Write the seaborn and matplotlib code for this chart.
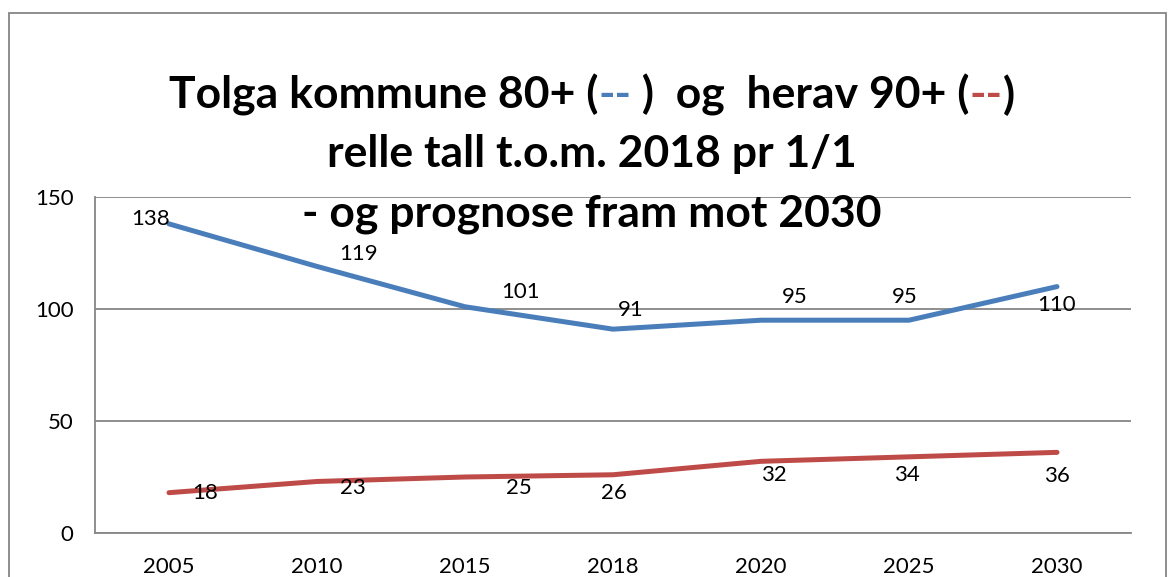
import matplotlib
matplotlib.use("Agg")
import matplotlib.pyplot as plt
import matplotlib.patches as mpatches
from matplotlib import font_manager
import pandas as pd
import seaborn as sns

sns.set_theme(style="white")

names = {f.name for f in font_manager.fontManager.ttflist}
body_font = "Lato" if "Lato" in names else "DejaVu Sans"
plt.rcParams["font.family"] = [body_font, "DejaVu Sans"]
plt.rcParams["text.color"] = "black"
plt.rcParams["xtick.labelcolor"] = "black"
plt.rcParams["ytick.labelcolor"] = "black"

years = ["2005", "2010", "2015", "2018", "2020", "2025", "2030"]
total_80 = [138, 119, 101, 91, 95, 95, 110]
of_90 = [18, 23, 25, 26, 32, 34, 36]

blue = "#4a7ebb"
red = "#be4b48"
grey = "#868686"

# label offsets in pixels, mimicking Excel's placement
off_80 = [(-18, 5), (42, 12), (56, 15), (18, 19), (34, 23), (-4, 23), (0, -18)]
off_90 = [(36, 0), (36, -7), (54, -11), (1, -18), (13, -14), (-2, -18), (0, -24)]

df = pd.DataFrame({"year": years * 2,
                   "value": total_80 + of_90,
                   "group": ["80+"] * len(years) + ["90+"] * len(years)})

fig = plt.figure(figsize=(11.68, 5.77), dpi=100)
ax = fig.add_axes([95 / 1168, 44 / 577, 1036 / 1168, 336 / 577])

sns.lineplot(data=df, x="year", y="value", hue="group", palette={"80+": blue, "90+": red},
             linewidth=3.6, legend=False, ax=ax, sort=False)
for ln in ax.lines:
    ln.set_solid_capstyle("round")
    ln.set_solid_joinstyle("round")

for vals, offs in ((total_80, off_80), (of_90, off_90)):
    for i, (v, o) in enumerate(zip(vals, offs)):
        ax.annotate(str(v), (i, v), xytext=o, textcoords="offset pixels",
                    ha="center", va="center", fontsize=16, color="black")

ax.set_xlim(-0.5, len(years) - 0.5)
ax.set_ylim(0, 150)
ax.set_yticks([0, 50, 100, 150])
ax.set_xticks(range(len(years)))
ax.set_xticks([i - 0.5 for i in range(len(years) + 1)], minor=True)
ax.set_xticklabels(years)
ax.tick_params(axis="x", which="major", length=0, pad=17, labelsize=16)
ax.tick_params(axis="x", which="minor", length=6, width=1.2, color=grey, direction="out")
ax.tick_params(axis="y", length=6.5, width=1.2, color=grey, direction="out", pad=9, labelsize=16)
ax.set_xlabel("")
ax.set_ylabel("")
ax.grid(axis="y", color=grey, linewidth=1.3)
ax.set_axisbelow(True)
for s in ("top", "right"):
    ax.spines[s].set_visible(False)
for s in ("left", "bottom"):
    ax.spines[s].set_color(grey)
    ax.spines[s].set_linewidth(1.3)

# outer chart frame
fig.patches.append(mpatches.Rectangle((9 / 1168, -0.05), 1157 / 1168, 1.05 - 13 / 577,
                                      transform=fig.transFigure, fill=False,
                                      edgecolor=grey, linewidth=1.3))

tkw = dict(fontsize=32, fontweight="bold", color="black", family=[body_font, "DejaVu Sans"])
pieces = [("Tolga kommune 80+ (", "black"), ("--", blue), (" )  og  herav 90+ (", "black"),
          ("--", red), (")", "black")]
cx = 592 / 1168
chain = []
for s, c in pieces:
    t = fig.text(0, 1 - 95 / 577, s, va="center", ha="left", **{**tkw, "color": c})
    chain.append(t)
fig.canvas.draw()
r = fig.canvas.get_renderer()
widths = [t.get_window_extent(r).width for t in chain]
x = cx * 1168 - sum(widths) / 2
for t, w in zip(chain, widths):
    t.set_position((x / 1168, 1 - 95 / 577))
    x += w
fig.text(cx, 1 - 154 / 577, "relle tall t.o.m. 2018 pr 1/1", ha="center", va="center", **tkw)
fig.text(cx, 1 - 214 / 577, "- og prognose fram mot 2030", ha="center", va="center", **tkw)

fig.savefig("out.png", dpi=100)
